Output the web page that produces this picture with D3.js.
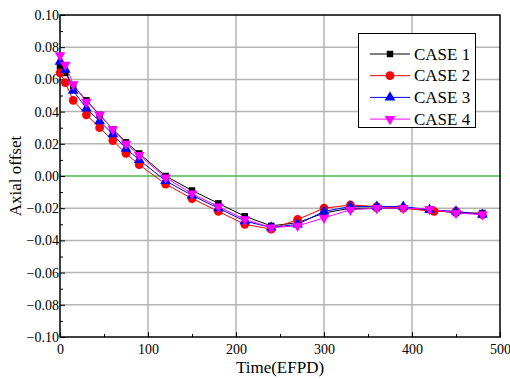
<!DOCTYPE html>
<html><head><meta charset="utf-8">
<script src="https://cdn.jsdelivr.net/npm/d3@7"></script>
<style>body{margin:0;background:#fff}svg{display:block}svg text{font-family:"Liberation Serif","Times New Roman",Times,serif !important}</style>
</head><body>
<script>
const times = [0, 6, 15, 30, 45, 60, 75, 90, 120, 150, 180, 210, 240, 270, 300, 330, 360, 390, 420, 450, 480];
const timesCase2 = [0, 6, 15, 30, 45, 60, 75, 90, 120, 150, 180, 210, 240, 270, 300, 330, 360, 390, 425, 450, 480];
const case1 = [0.068, 0.064, 0.056, 0.047, 0.038, 0.029, 0.021, 0.014, 0.000, -0.009, -0.017, -0.025, -0.031, -0.029, -0.023, -0.020, -0.020, -0.020, -0.021, -0.023, -0.023];
const case2 = [0.064, 0.058, 0.047, 0.038, 0.030, 0.022, 0.014, 0.007, -0.005, -0.014, -0.022, -0.030, -0.033, -0.027, -0.020, -0.018, -0.019, -0.020, -0.022, -0.022, -0.024];
const case3 = [0.071, 0.066, 0.053, 0.042, 0.034, 0.026, 0.017, 0.010, -0.003, -0.012, -0.020, -0.028, -0.032, -0.030, -0.022, -0.019, -0.019, -0.019, -0.021, -0.022, -0.024];
const case4 = [0.075, 0.069, 0.057, 0.046, 0.038, 0.029, 0.020, 0.013, -0.001, -0.011, -0.019, -0.027, -0.032, -0.031, -0.026, -0.021, -0.020, -0.020, -0.0205, -0.023, -0.024];
const seriesNames = ["CASE 1", "CASE 2", "CASE 3", "CASE 4"];
const xTicks = [0, 100, 200, 300, 400, 500];
const yTicks = [0.10, 0.08, 0.06, 0.04, 0.02, 0.00, -0.02, -0.04, -0.06, -0.08, -0.10];

const W = 510, H = 379;
const m = {left: 60, right: 10, top: 15, bottom: 42};
const x = d3.scaleLinear().domain([0, 500]).range([m.left, W - m.right]);
const y = d3.scaleLinear().domain([-0.10, 0.10]).range([H - m.bottom, m.top]);
const font = "Liberation Serif";

const svg = d3.select("body").append("svg").attr("width", W).attr("height", H);

// grid
svg.append("g").selectAll("line").data(xTicks.slice(1, -1)).join("line")
  .attr("x1", d => x(d)).attr("x2", d => x(d)).attr("y1", y(0.10)).attr("y2", y(-0.10))
  .attr("stroke", "#b4b4b4").attr("stroke-width", 1.5);
svg.append("g").selectAll("line").data(yTicks.filter(d => Math.abs(d) < 0.099 && d !== 0)).join("line")
  .attr("y1", d => y(d)).attr("y2", d => y(d)).attr("x1", x(0)).attr("x2", x(500))
  .attr("stroke", "#b4b4b4").attr("stroke-width", 1.5);
svg.append("line").attr("x1", x(0)).attr("x2", x(500)).attr("y1", y(0)).attr("y2", y(0))
  .attr("stroke", "#4cb84c").attr("stroke-width", 1.5);

// axes
const xAxis = d3.axisBottom(x).tickValues(xTicks).tickSize(-5).tickPadding(7).tickFormat(d3.format("d"));
svg.append("g").attr("transform", `translate(0,${y(-0.10)})`).call(xAxis);
const xMinor = d3.axisBottom(x).tickValues(d3.range(50, 500, 100)).tickSize(-3).tickFormat("");
svg.append("g").attr("transform", `translate(0,${y(-0.10)})`).call(xMinor);
const yAxis = d3.axisLeft(y).tickValues(yTicks).tickSize(-5).tickPadding(1).tickFormat(d3.format(".2f"));
svg.append("g").attr("transform", `translate(${x(0)},0)`).call(yAxis);
const yMinor = d3.axisLeft(y).tickValues(d3.range(-0.09, 0.1, 0.02)).tickSize(-3).tickFormat("");
svg.append("g").attr("transform", `translate(${x(0)},0)`).call(yMinor);
svg.selectAll(".domain").remove();
svg.selectAll("g").attr("font-family", null);
svg.selectAll(".tick line").attr("stroke", "#000").attr("stroke-width", 1);
svg.selectAll(".tick text").attr("font-size", 14).attr("fill", "#000");

// frame
svg.append("rect").attr("x", x(0)).attr("y", y(0.10)).attr("width", x(500) - x(0)).attr("height", y(-0.10) - y(0.10))
  .attr("fill", "none").attr("stroke", "#000").attr("stroke-width", 1.5);

// labels
svg.append("text").attr("x", (x(0) + x(500)) / 2).attr("y", 373).attr("text-anchor", "middle")
  .attr("font-size", 17).text("Time(EFPD)");
svg.append("text").attr("transform", `translate(21,${y(0)}) rotate(-90)`).attr("text-anchor", "middle")
  .attr("font-size", 17).text("Axial offset");

// series
const series = [
  {name: seriesNames[0], t: times, v: case1, color: "#000000", sym: d3.symbolSquare, size: 42, rot: 0},
  {name: seriesNames[1], t: timesCase2, v: case2, color: "#ff0000", sym: d3.symbolCircle, size: 60, rot: 0},
  {name: seriesNames[2], t: times, v: case3, color: "#0000ff", sym: d3.symbolTriangle, size: 50, rot: 0},
  {name: seriesNames[3], t: times, v: case4, color: "#ff00ff", sym: d3.symbolTriangle, size: 50, rot: 180}
];
const line = d3.line().x(d => x(d[0])).y(d => y(d[1]));
series.forEach(s => {
  const pts = s.t.map((t, i) => [t, s.v[i]]);
  svg.append("path").datum(pts).attr("d", line).attr("fill", "none").attr("stroke", s.color).attr("stroke-width", 1);
});
series.forEach(s => {
  const pts = s.t.map((t, i) => [t, s.v[i]]);
  svg.append("g").selectAll("path").data(pts).join("path")
    .attr("d", d3.symbol().type(s.sym).size(s.size))
    .attr("transform", d => `translate(${x(d[0])},${y(d[1])}) rotate(${s.rot})`)
    .attr("fill", s.color);
});

// legend
const lg = svg.append("g");
lg.append("rect").attr("x", 358.5).attr("y", 33.5).attr("width", 117).attr("height", 94)
  .attr("fill", "#fff").attr("stroke", "#000").attr("stroke-width", 1);
series.forEach((s, i) => {
  const yy = 54 + i * 21.7;
  lg.append("line").attr("x1", 370).attr("x2", 410).attr("y1", yy).attr("y2", yy).attr("stroke", s.color).attr("stroke-width", 1);
  lg.append("path").attr("d", d3.symbol().type(s.sym).size(s.size)).attr("transform", `translate(390,${yy}) rotate(${s.rot})`).attr("fill", s.color);
  lg.append("text").attr("x", 414).attr("y", yy + 5.5).attr("font-size", 17).text(s.name);
});
</script>
</body></html>
